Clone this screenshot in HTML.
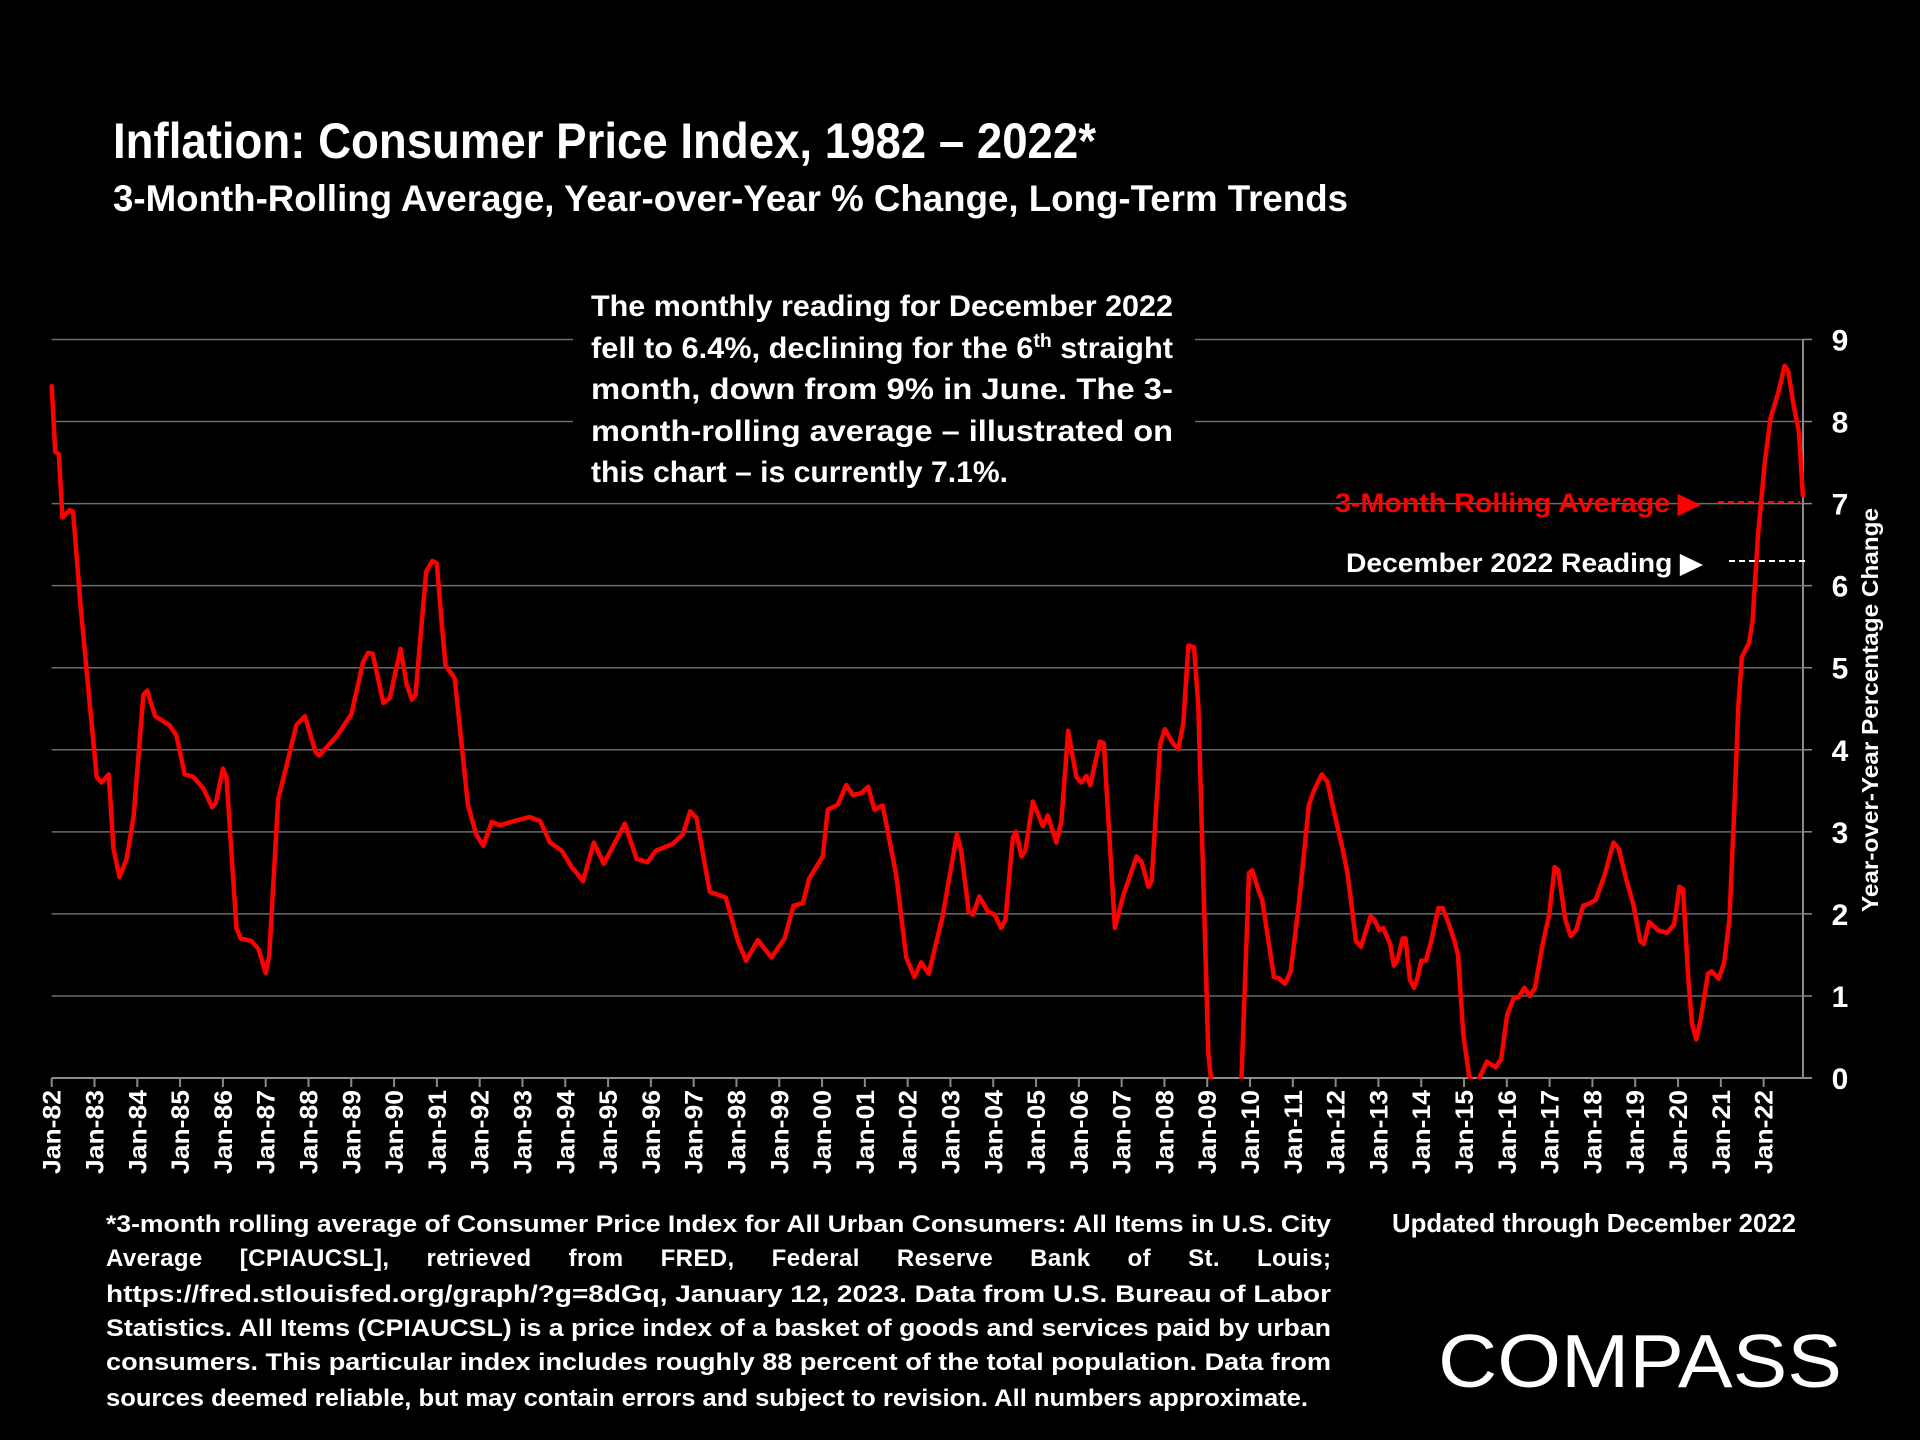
<!DOCTYPE html>
<html><head><meta charset="utf-8">
<style>
html,body{margin:0;padding:0;background:#000;}
svg{display:block;}
text{font-family:"Liberation Sans",sans-serif;font-weight:bold;fill:#fff;}
</style></head>
<body>
<svg id="chart" xmlns="http://www.w3.org/2000/svg" width="1920" height="1440" viewBox="0 0 1920 1440">
<rect x="0" y="0" width="1920" height="1440" fill="#000"/>
<text x="113" y="158" font-size="50" textLength="983" lengthAdjust="spacingAndGlyphs">Inflation: Consumer Price Index, 1982 – 2022*</text>
<text x="113" y="211" font-size="37" textLength="1235" lengthAdjust="spacingAndGlyphs">3-Month-Rolling Average, Year-over-Year % Change, Long-Term Trends</text>
<g id="grid"></g>
<g id="axes"></g>
<g id="series"></g>
<g font-size="30">
<text x="591" y="316" textLength="582" lengthAdjust="spacingAndGlyphs">The monthly reading for December 2022</text>
<text x="591" y="358" textLength="582" lengthAdjust="spacingAndGlyphs">fell to 6.4%, declining for the 6<tspan font-size="19" dy="-11">th</tspan><tspan dy="11"> straight</tspan></text>
<text x="591" y="399" textLength="582" lengthAdjust="spacingAndGlyphs">month, down from 9% in June. The 3-</text>
<text x="591" y="441" textLength="582" lengthAdjust="spacingAndGlyphs">month-rolling average – illustrated on</text>
<text x="591" y="482" textLength="417" lengthAdjust="spacingAndGlyphs">this chart – is currently 7.1%.</text>
</g>
<g font-size="27">
<text x="1335" y="512" style="fill:#ff0000" textLength="365" lengthAdjust="spacingAndGlyphs">3-Month Rolling Average ▶</text>
<line x1="1718" y1="502" x2="1800" y2="502" stroke="#ff0000" stroke-width="2" stroke-dasharray="6,4"/>
<text x="1346" y="572" textLength="356" lengthAdjust="spacingAndGlyphs">December 2022 Reading ▶</text>
<line x1="1729" y1="561" x2="1807" y2="561" stroke="#fff" stroke-width="2" stroke-dasharray="6,4"/>
</g>
<text font-size="23" text-anchor="middle" transform="translate(1878,710) rotate(-90)" textLength="404" lengthAdjust="spacingAndGlyphs">Year-over-Year Percentage Change</text>
<g font-size="24">
<text x="106" y="1232" textLength="1225" lengthAdjust="spacingAndGlyphs">*3-month rolling average of Consumer Price Index for All Urban Consumers: All Items in U.S. City</text>
<text x="106" y="1266" textLength="1225" lengthAdjust="spacing" word-spacing="30">Average [CPIAUCSL], retrieved from FRED, Federal Reserve Bank of St. Louis;</text>
<text x="106" y="1302" textLength="1225" lengthAdjust="spacingAndGlyphs">https://fred.stlouisfed.org/graph/?g=8dGq, January 12, 2023. Data from U.S. Bureau of Labor</text>
<text x="106" y="1336" textLength="1225" lengthAdjust="spacingAndGlyphs">Statistics. All Items (CPIAUCSL) is a price index of a basket of goods and services paid by urban</text>
<text x="106" y="1370" textLength="1225" lengthAdjust="spacingAndGlyphs">consumers. This particular index includes roughly 88 percent of the total population. Data from</text>
<text x="106" y="1406" textLength="1202" lengthAdjust="spacingAndGlyphs">sources deemed reliable, but may contain errors and subject to revision. All numbers approximate.</text>
</g>
<text x="1392" y="1232" font-size="26" textLength="404" lengthAdjust="spacingAndGlyphs">Updated through December 2022</text>
<text x="1438" y="1387" font-size="75" style="font-weight:normal" textLength="404" lengthAdjust="spacingAndGlyphs">COMPASS</text>
</svg>
<script>
// month index from Jan-1982 (0) and 3-month rolling YoY % change
const months = [0,1,2,3,5,6,8,10,12.6,14,16,17.3,19,21,23,25.7,26.8,29,33,35,37.3,39.7,42.5,45,46,48,49,51.8,53,56,58,60,61,63.5,65.4,68.6,71,74,75,80,84,87.3,88.7,90,93,94.8,97.8,99.5,101,102,105,106.7,108,109,110.4,113,116.7,119,121,123.4,125.7,129.5,134,137,139.7,143,145.8,149,152,154.8,160.7,164,167,169.4,174,177,179,180.8,184.5,189,192.4,194.7,198,201.8,205.5,208,210.6,212.4,216.2,217.6,220.4,222.8,224.6,227,228.9,230.7,233,236.8,239.6,241.9,243.8,245.9,249.8,253.8,255,257.1,258.3,260.1,262.5,264.4,266.2,267.4,269.5,270.4,271.9,273,275.1,277.9,279.3,281.7,283.1,285,287.3,288.7,290.1,291.2,293.9,295,298.1,300.5,304.2,305.6,307.5,308.4,310.8,312.1,314.5,315.9,317.3,318.7,320.3,321.5,322.9,324.3,325.2,328,330,332,333.6,335.7,336.6,338.5,339.4,342.7,343.9,345.8,347.4,349.7,352.5,353.9,356.1,357.7,359.1,361.9,363.3,365.7,367.1,369.8,370.8,372.3,373.3,375.3,376.3,377.3,378.8,379.6,380.8,382,383,384,385.3,386.8,388.8,390,391.8,393.3,394.3,395.8,397.4,398.9,400.4,402.4,403.4,404.9,406.4,408.1,409.9,411.4,412.9,414.4,415.9,417.9,419.9,421.4,422.4,424.4,425.9,427.4,429.4,430.9,432.9,435.4,437.9,439.4,441.4,443.4,445.4,446.4,447.9,450.4,452.9,454.9,456.4,457.4,458.9,459.9,461.1,462.4,464.4,465.4,467.4,468.9,470.4,471.7,472.9,473.9,475.9,476.9,478.4,480.4,481.9,484.4,485.9,486.9,488.4,489.9,491];
const values = [8.43,7.63,7.6,6.83,6.92,6.9,5.8,4.87,3.67,3.6,3.7,2.8,2.45,2.67,3.2,4.67,4.72,4.41,4.3,4.17,3.7,3.67,3.53,3.3,3.35,3.77,3.67,1.83,1.7,1.67,1.57,1.28,1.5,3.4,3.73,4.3,4.41,3.97,3.93,4.17,4.43,5.07,5.18,5.17,4.57,4.63,5.23,4.8,4.61,4.67,6.17,6.3,6.27,5.73,5.03,4.87,3.33,2.97,2.83,3.12,3.08,3.13,3.18,3.13,2.87,2.77,2.57,2.4,2.87,2.61,3.1,2.67,2.63,2.77,2.85,2.97,3.25,3.17,2.27,2.2,1.67,1.43,1.68,1.47,1.7,2.1,2.13,2.43,2.7,3.27,3.33,3.57,3.45,3.47,3.55,3.27,3.32,2.47,1.47,1.23,1.41,1.27,1.97,2.97,2.77,2.03,1.99,2.21,2.03,1.99,1.83,1.93,2.93,3.0,2.7,2.77,3.37,3.07,3.2,2.87,3.13,4.23,3.67,3.6,3.68,3.57,4.1,4.08,1.83,2.23,2.7,2.63,2.33,2.4,4.07,4.25,4.07,4.01,4.33,5.27,5.25,4.53,2.4,0.3,-0.07,-1.2,-1.6,-0.8,0,2.5,2.53,2.27,2.17,1.23,1.22,1.15,1.3,2.13,3.33,3.5,3.7,3.61,3.33,2.8,2.5,1.67,1.6,1.97,1.93,1.8,1.83,1.63,1.37,1.43,1.7,1.7,1.2,1.1,1.23,1.43,1.43,1.67,2.07,2.07,1.87,1.67,1.5,0.53,0.03,-0.1,0.01,0.2,0.17,0.13,0.23,0.77,0.97,0.99,1.1,1.0,1.1,1.6,2.0,2.57,2.53,1.93,1.73,1.8,2.1,2.12,2.17,2.47,2.87,2.79,2.43,2.13,1.67,1.63,1.9,1.8,1.77,1.87,2.33,2.3,1.2,0.67,0.47,0.73,1.27,1.3,1.21,1.4,1.93,3.2,4.53,5.13,5.3,5.57,6.6,7.53,8.03,8.4,8.68,8.61,8.2,7.87,7.1];
const yTicks = [0,1,2,3,4,5,6,7,8,9];
const xLabels = ["Jan-82","Jan-83","Jan-84","Jan-85","Jan-86","Jan-87","Jan-88","Jan-89","Jan-90","Jan-91","Jan-92","Jan-93","Jan-94","Jan-95","Jan-96","Jan-97","Jan-98","Jan-99","Jan-00","Jan-01","Jan-02","Jan-03","Jan-04","Jan-05","Jan-06","Jan-07","Jan-08","Jan-09","Jan-10","Jan-11","Jan-12","Jan-13","Jan-14","Jan-15","Jan-16","Jan-17","Jan-18","Jan-19","Jan-20","Jan-21","Jan-22"];

const NS = "http://www.w3.org/2000/svg";
const X0 = 51.7, PXM = 3.5665, Y0 = 1078, PXU = 82.06, AXISX = 1803;
function xScale(m){ return X0 + m * PXM; }
function yScale(v){ return Y0 - v * PXU; }
function mk(tag, attrs, parent){ const e = document.createElementNS(NS, tag); for (const k in attrs) e.setAttribute(k, attrs[k]); parent.appendChild(e); return e; }

const grid = document.getElementById('grid');
const axes = document.getElementById('axes');
const series = document.getElementById('series');

yTicks.forEach(function(t){
  const y = yScale(t);
  if (t > 0) {
    if (t >= 8) {
      const g1 = mk('line', {x1: X0, x2: 573, y1: y, y2: y, stroke: '#6b6b6b', 'stroke-width': 1.5}, grid);
      
      
      const g2 = mk('line', {x1: 1195, x2: AXISX, y1: y, y2: y, stroke: '#6b6b6b', 'stroke-width': 1.5}, grid);
      
      
    } else {
      const g = mk('line', {x1: X0, x2: AXISX, y1: y, y2: y, stroke: '#6b6b6b', 'stroke-width': 1.5}, grid);
      
      
    }
  }
  const tk = mk('line', {x1: AXISX, x2: AXISX + 9, y1: y, y2: y, stroke: '#8a8a8a', 'stroke-width': 1.5}, axes);
  
  
  const lb = mk('text', {x: 1840, y: y + 11, 'font-size': 30, 'text-anchor': 'middle'}, axes);
  lb.textContent = String(t);
  
  
});

const xa = mk('line', {x1: X0, x2: AXISX + 9, y1: Y0, y2: Y0, stroke: '#8a8a8a', 'stroke-width': 2}, axes);


const ya = mk('line', {x1: AXISX, x2: AXISX, y1: yScale(9), y2: Y0, stroke: '#8a8a8a', 'stroke-width': 2}, axes);



xLabels.forEach(function(lab, i){
  const x = xScale(i * 12);
  const tk = mk('line', {x1: x, x2: x, y1: Y0, y2: Y0 + 9, stroke: '#8a8a8a', 'stroke-width': 2}, axes);
  
  
  const t = mk('text', {'font-size': 25, 'text-anchor': 'end', transform: 'translate(' + (x + 9) + ',' + (Y0 + 12) + ') rotate(-90)', textLength: 84, lengthAdjust: 'spacingAndGlyphs'}, axes);
  t.textContent = lab;
  
  
});

const defs = mk('defs', {}, series);
const cp = mk('clipPath', {id: 'plotclip'}, defs);
mk('rect', {x: 0, y: 300, width: 1900, height: Y0 - 300 + 1}, cp);
let d = '';
for (let i = 0; i < months.length; i++) {
  d += (i ? 'L' : 'M') + xScale(months[i]).toFixed(2) + ',' + yScale(values[i]).toFixed(2);
}
const line = mk('path', {d: d, fill: 'none', stroke: '#ff0000', 'stroke-width': 4.5, 'stroke-linejoin': 'round', 'stroke-linecap': 'round', 'clip-path': 'url(#plotclip)'}, series);


</script>
</body></html>
